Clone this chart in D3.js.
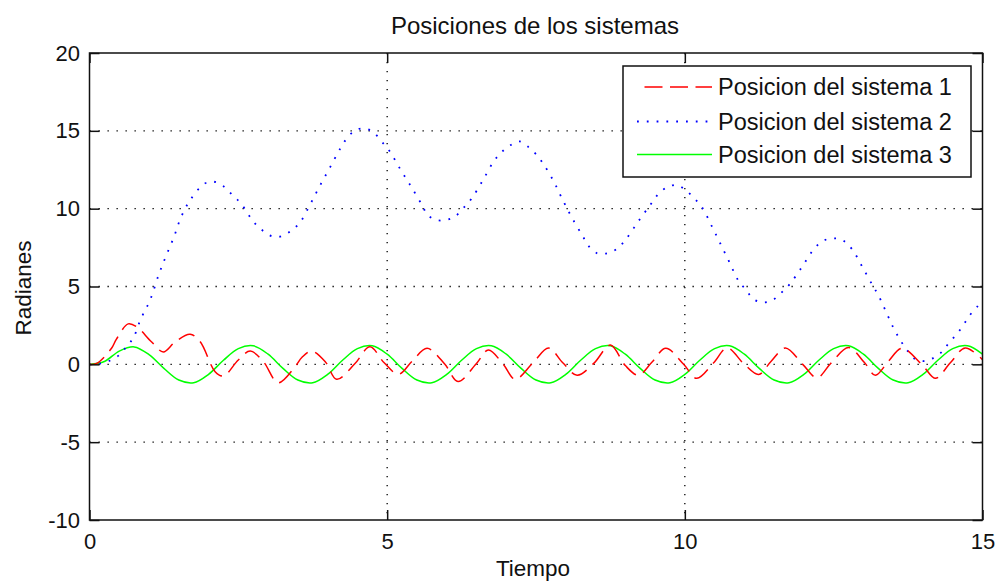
<!DOCTYPE html>
<html><head><meta charset="utf-8">
<script src="https://cdn.jsdelivr.net/npm/d3@7"></script>
<style>
html,body{margin:0;padding:0;background:#fff;}
svg{display:block;font-family:"Liberation Sans",Arial,sans-serif;}
</style></head>
<body><svg id="chart" width="995" height="586"></svg>
<script>
const titleText = "Posiciones de los sistemas";
const xLabel = "Tiempo";
const yLabel = "Radianes";
const xTicks = [0, 5, 10, 15];
const yTicks = [-10, -5, 0, 5, 10, 15, 20];
const seriesNames = ["Posicion del sistema 1", "Posicion del sistema 2", "Posicion del sistema 3"];

// Sistema 1 (red dashed)
const t1 = [0,0.12,0.37,0.45,0.65,0.79,1.04,1.24,1.44,1.69,1.86,2.11,2.25,2.5,2.7,2.92,3.17,3.45,3.57,3.73,3.96,4.15,4.46,4.71,4.95,5.19,5.42,5.67,5.97,6.19,6.5,6.7,6.95,7.15,7.45,7.71,7.95,8.19,8.47,8.75,9.0,9.22,9.45,9.68,9.98,10.2,10.48,10.71,11.0,11.24,11.45,11.69,11.98,12.22,12.45,12.75,13.02,13.2,13.42,13.65,14.0,14.21,14.46,14.71,15.0];
const y1 = [0,0.06,1.03,1.6,2.6,2.42,1.45,0.8,1.45,1.93,1.45,-0.47,-0.75,0.28,0.85,0.17,-1.18,-0.17,0.45,0.85,0.17,-0.96,0.05,1.13,0.1,-0.64,0.2,1.03,0,-1.1,0.06,0.92,0,-0.96,0.1,1.05,0.1,-0.7,0.06,1.24,-0.08,-0.7,0.15,1.03,0,-0.9,0.08,1.05,0,-0.65,0.2,1.05,0,-0.86,0.05,1.08,0.1,-0.7,0.2,1.03,-0.1,-0.9,0.1,1.05,0.3];

// Sistema 2 (blue dotted)
const t2 = [0,0.15,0.32,0.5,0.62,0.74,0.86,1.02,1.17,1.29,1.42,1.53,1.69,1.93,2.09,2.24,2.39,2.55,2.76,2.92,3.07,3.22,3.38,3.54,3.71,3.87,4.04,4.21,4.31,4.45,4.6,4.76,4.91,5.04,5.22,5.41,5.59,5.68,5.83,5.99,6.14,6.29,6.42,6.61,6.79,6.92,7.07,7.22,7.37,7.5,7.62,7.8,7.95,8.11,8.29,8.38,8.53,8.69,8.85,9.0,9.21,9.43,9.55,9.7,9.86,10.01,10.16,10.29,10.45,10.6,10.75,10.9,11.03,11.15,11.3,11.46,11.61,11.76,11.98,12.19,12.35,12.5,12.65,12.81,12.99,13.16,13.25,13.4,13.51,13.62,13.73,13.86,14.0,14.15,14.32,14.43,14.57,14.69,14.79,14.92,15.0];
const y2 = [0,0.03,0.2,0.6,1.13,1.73,2.9,4.15,5.84,7.0,8.2,9.38,10.55,11.6,11.73,11.47,10.92,10.3,9.14,8.56,8.22,8.22,8.56,9.14,10.3,11.47,12.65,13.85,14.45,15.0,15.16,14.94,14.3,13.7,12.54,11.37,10.2,9.6,9.27,9.27,9.5,10.08,10.66,11.84,13.04,13.62,14.08,14.32,13.97,13.5,12.9,11.73,10.55,9.38,8.2,7.62,7.13,7.13,7.39,7.98,9.14,10.3,10.92,11.37,11.52,11.2,10.66,10.08,8.9,7.73,6.55,5.37,4.77,4.19,3.98,4.09,4.56,5.14,6.33,7.51,7.98,8.09,7.98,7.39,6.2,5.03,4.45,3.2,2.3,1.55,0.92,0.36,0.21,0.36,0.81,1.35,1.95,2.59,3.17,3.74,4.1];

// Sistema 3 (green solid)
const t3 = [0,0.25,0.5,0.75,1,1.25,1.5,1.75,2,2.25,2.5,2.75,3,3.25,3.5,3.75,4,4.25,4.5,4.75,5,5.25,5.5,5.75,6,6.25,6.5,6.75,7,7.25,7.5,7.75,8,8.25,8.5,8.75,9,9.25,9.5,9.75,10,10.25,10.5,10.75,11,11.25,11.5,11.75,12,12.25,12.5,12.75,13,13.25,13.5,13.75,14,14.25,14.5,14.75,15];
const y3 = [0,0.18,0.85,1.12,0.62,-0.26,-1.01,-1.18,-0.64,
  0.26,1.01,1.19,0.65,-0.26,-1.01,-1.19,-0.65,
  0.26,1.01,1.19,0.65,-0.26,-1.01,-1.19,-0.65,
  0.26,1.01,1.19,0.65,-0.26,-1.01,-1.19,-0.65,
  0.26,1.01,1.19,0.65,-0.26,-1.01,-1.19,-0.65,
  0.26,1.01,1.19,0.65,-0.26,-1.01,-1.19,-0.65,
  0.26,1.01,1.19,0.65,-0.26,-1.01,-1.19,-0.65,
  0.26,1.01,1.19,0.65];

const seriesColors = ["#ff0000", "#0000ff", "#00ff00"];

const L = 89.5, R = 982.5, T = 53, B = 520;
const svg = d3.select("#chart");
const x = d3.scaleLinear().domain([0, 15]).range([L, R]);
const y = d3.scaleLinear().domain([-10, 20]).range([B, T]);

svg.append("defs").append("clipPath").attr("id", "clip")
  .append("rect").attr("x", L).attr("y", T).attr("width", R - L).attr("height", B - T);

// grid
const grid = svg.append("g").attr("stroke", "#000").attr("stroke-width", 1.3).attr("stroke-dasharray", "1.3,7.7");
grid.selectAll("line.gx").data(xTicks.filter(v => v > 0 && v < 15)).join("line")
  .attr("x1", d => x(d)).attr("x2", d => x(d)).attr("y1", T).attr("y2", B);
grid.selectAll("line.gy").data(yTicks.filter(v => v > -10 && v < 20)).join("line")
  .attr("y1", d => y(d)).attr("y2", d => y(d)).attr("x1", L).attr("x2", R);

// lines
const line = d3.line().x(d => x(d[0])).y(d => y(d[1])).curve(d3.curveCatmullRom.alpha(0.5));
const data = [d3.zip(t1, y1), d3.zip(t2, y2), d3.zip(t3, y3)];
const dash = ["17,8", "1.8,8", null];
const widths = [1.5, 1.8, 1.5];
const plot = svg.append("g").attr("clip-path", "url(#clip)");
[2, 1, 0].forEach(i => {
  plot.append("path").datum(data[i]).attr("d", line)
    .attr("fill", "none").attr("stroke", seriesColors[i]).attr("stroke-width", widths[i])
    .attr("stroke-dasharray", dash[i]);
});

// axes
const fontTick = 22;
const fmt = d => String(d);
const axB = svg.append("g").attr("transform", `translate(0,${B})`)
  .call(d3.axisBottom(x).tickValues(xTicks).tickSizeInner(-10).tickSizeOuter(0).tickPadding(13).tickFormat(fmt));
const axL = svg.append("g").attr("transform", `translate(${L},0)`)
  .call(d3.axisLeft(y).tickValues(yTicks).tickSizeInner(-10).tickSizeOuter(0).tickPadding(9.5).tickFormat(fmt));
const axT = svg.append("g").attr("transform", `translate(0,${T})`)
  .call(d3.axisTop(x).tickValues(xTicks).tickSizeInner(-10).tickSizeOuter(0).tickFormat(""));
const axR = svg.append("g").attr("transform", `translate(${R},0)`)
  .call(d3.axisRight(y).tickValues(yTicks).tickSizeInner(-10).tickSizeOuter(0).tickFormat(""));
[axB, axL, axT, axR].forEach(a => {
  a.select(".domain").remove();
  a.selectAll("line").attr("stroke", "#111").attr("stroke-width", 1.5);
  a.selectAll("text").attr("font-size", fontTick).attr("fill", "#111")
    .attr("font-family", "'Liberation Sans',Arial,sans-serif");
});
svg.append("rect").attr("x", L).attr("y", T).attr("width", R - L).attr("height", B - T)
  .attr("fill", "none").attr("stroke", "#111").attr("stroke-width", 1.5);

// title and labels
svg.append("text").attr("x", 535).attr("y", 34).attr("text-anchor", "middle")
  .attr("font-size", 24).attr("fill", "#111").text(titleText);
svg.append("text").attr("x", 533).attr("y", 576).attr("text-anchor", "middle")
  .attr("font-size", 22.5).attr("fill", "#111").text(xLabel);
svg.append("text").attr("transform", "translate(31,288) rotate(-90)").attr("text-anchor", "middle")
  .attr("font-size", 22.5).attr("fill", "#111").text(yLabel);

// legend
const lg = svg.append("g");
lg.append("rect").attr("x", 623).attr("y", 66).attr("width", 348).attr("height", 111)
  .attr("fill", "#fff").attr("stroke", "#111").attr("stroke-width", 1.5);
const rowY = [87, 121.5, 154.5];
seriesNames.forEach((name, i) => {
  lg.append("line").attr("x1", 637).attr("x2", 712).attr("y1", rowY[i]).attr("y2", rowY[i])
    .attr("stroke", seriesColors[i]).attr("stroke-width", widths[i])
    .attr("stroke-dasharray", i === 0 ? "18,7.5" : dash[i])
    .attr("stroke-dashoffset", i === 0 ? 18 : 0);
  lg.append("text").attr("x", 718).attr("y", rowY[i]).attr("dy", "0.36em")
    .attr("font-size", 23.5).attr("fill", "#111").text(name);
});
</script></body></html>
